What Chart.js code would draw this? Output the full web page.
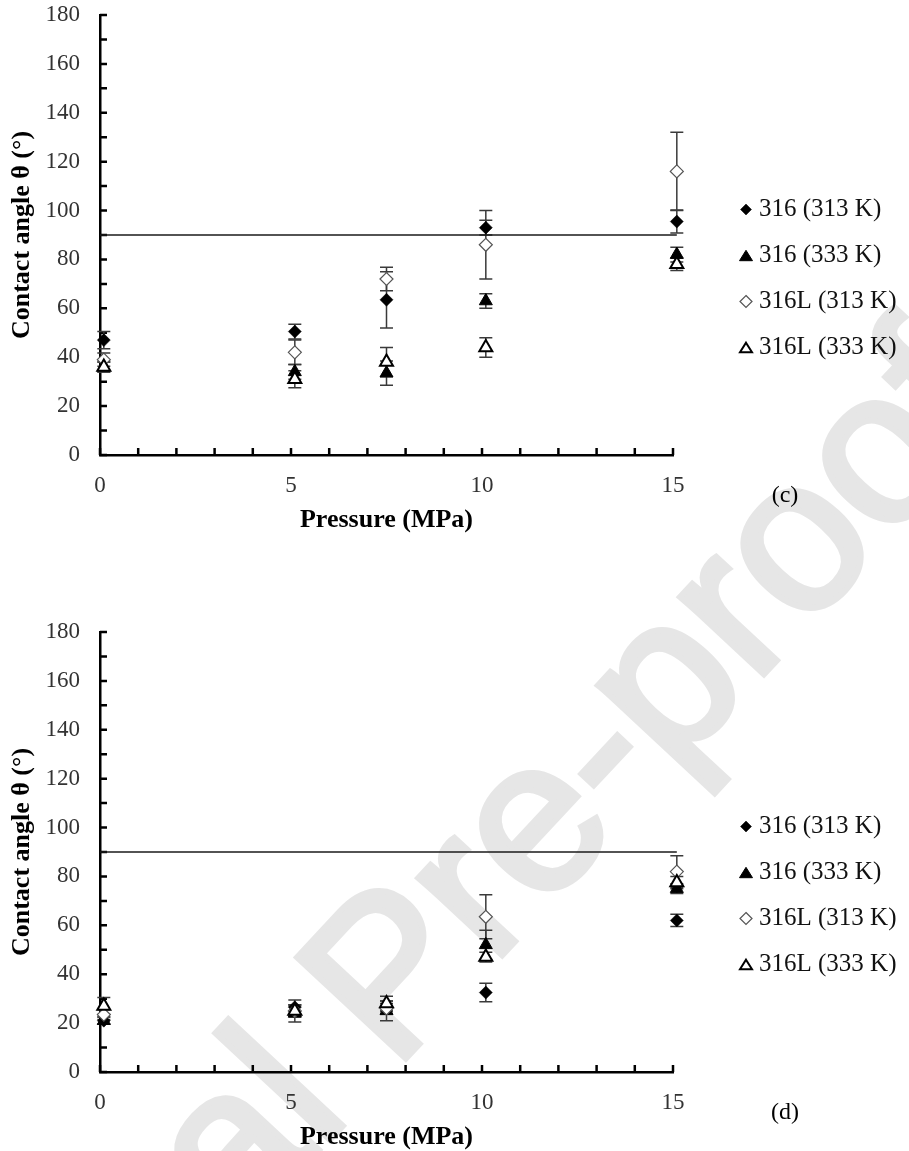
<!DOCTYPE html>
<html>
<head>
<meta charset="utf-8">
<title>Contact angle vs pressure</title>
<script src="https://cdn.jsdelivr.net/npm/chart.js@4.4.1/dist/chart.umd.min.js"></script>
<style>
    html, body { margin: 0; padding: 0; background: #fff; }
    body { width: 909px; height: 1151px; position: relative; overflow: hidden; }
    .panel { position: absolute; left: 0; width: 909px; height: 540px; z-index: 1; }
    #watermark {
        position: absolute;
        left: -130px;
        top: 1634px;
        font: 216px 'Liberation Sans', Arial, sans-serif;
        line-height: 1;
        color: #e6e6e6;
        -webkit-text-stroke: 6px #e6e6e6;
        white-space: nowrap;
        transform-origin: 0 0;
        transform: rotate(-47deg) translateY(-0.85em);
        z-index: 0;
    }
</style>
</head>
<body>
<div id="watermark">Journal Pre-proof</div>
<div class="panel" style="top:0"><canvas id="chartC" width="909" height="540"></canvas></div>
<div class="panel" style="top:617px"><canvas id="chartD" width="909" height="540"></canvas></div>
<script>
// values (contact angle in degrees, pressure in MPa)
const seriesNames = ['316 (313 K)', '316 (333 K)', '316L (313 K)', '316L (333 K)'];
const pressure = [0.1, 5.1, 7.5, 10.1, 15.1];
const wettingLimit = 90;
const limitSpan = [0, 15.1];

// panel (c)
const angleC316At313 = [47, 50.5, 63.5, 93, 95.5];
const errC316At313 = [3.5, 3, 11.5, 3, 4.7];
const angleC316At333 = [36, 34, 33.5, 63, 82];
const errC316At333 = [2, 3, 5, 3, 3];
const angleC316LAt313 = [39, 42, 72, 86, 116];
const errC316LAt313 = [2.7, 5, 4.8, 14, 16];
const angleC316LAt333 = [36, 31, 38, 44, 78];
const errC316LAt333 = [2, 3.5, 6, 4, 2.5];

// panel (d)
const angleD316At313 = [21, 26.5, 27, 32.5, 62];
const errD316At313 = [1.5, 3, 2, 3.8, 2.5];
const angleD316At333 = [21, 24, 25, 52, 75];
const errD316At333 = [1.5, 3.5, 4, 6, 2];
const angleD316LAt313 = [23.5, 25, 26, 63.5, 82];
const errD316LAt313 = [2, 2, 2, 9, 6.5];
const angleD316LAt333 = [27, 25, 28, 47, 77.5];
const errD316LAt333 = [3.5, 2.5, 3, 2, 2.5];

const markerStyles = [
    { shape: 'rectRot', radius: 6.5, fill: '#000', stroke: '#000', width: 0.5, legendSize: 5.5 },
    { shape: 'triangle', radius: 7.5, fill: '#000', stroke: '#000', width: 1, legendSize: 6.5 },
    { shape: 'rectRot', radius: 6.5, fill: '#fff', stroke: '#555', width: 1.2, legendSize: 6 },
    { shape: 'triangle', radius: 7.5, fill: '#fff', stroke: '#000', width: 2, legendSize: 6 },
];

const serif = "'Liberation Serif', 'Times New Roman', serif";

const drawLegendMarker = (ctx, style, x, y) => {
    const r = style.legendSize;
    ctx.beginPath();
    if (style.shape === 'rectRot') {
        ctx.moveTo(x, y - r);
        ctx.lineTo(x + r, y);
        ctx.lineTo(x, y + r);
        ctx.lineTo(x - r, y);
    } else {
        const h = r * 1.6;
        ctx.moveTo(x, y - h / 2);
        ctx.lineTo(x + r, y + h / 2);
        ctx.lineTo(x - r, y + h / 2);
    }
    ctx.closePath();
    ctx.fillStyle = style.fill;
    ctx.fill();
    ctx.lineWidth = style.width;
    ctx.strokeStyle = style.stroke;
    ctx.stroke();
};

// tick marks pointing into the plot, like the original spreadsheet chart
const insideTicks = {
    id: 'insideTicks',
    beforeDatasetsDraw(chart, _args, opts) {
        const { ctx, scales: { x, y } } = chart;
        ctx.save();
        ctx.strokeStyle = '#000';
        ctx.lineWidth = opts.width;
        ctx.beginPath();
        y.ticks.forEach((tick) => {
            const py = y.getPixelForValue(tick.value);
            ctx.moveTo(x.left, py);
            ctx.lineTo(x.left + opts.length, py);
        });
        x.ticks.forEach((tick) => {
            const px = x.getPixelForValue(tick.value);
            ctx.moveTo(px, y.bottom);
            ctx.lineTo(px, y.bottom - opts.length);
        });
        ctx.stroke();
        ctx.restore();
    },
};

const errorBars = {
    id: 'errorBars',
    beforeDatasetsDraw(chart, _args, opts) {
        const { ctx, scales: { y } } = chart;
        ctx.save();
        ctx.strokeStyle = opts.color;
        ctx.lineWidth = opts.width;
        chart.data.datasets.forEach((dataset, di) => {
            if (!dataset.errors) return;
            const meta = chart.getDatasetMeta(di);
            meta.data.forEach((point, i) => {
                const value = dataset.data[i].y;
                const top = y.getPixelForValue(value + dataset.errors[i]);
                const bottom = y.getPixelForValue(value - dataset.errors[i]);
                ctx.beginPath();
                ctx.moveTo(point.x, top);
                ctx.lineTo(point.x, bottom);
                ctx.moveTo(point.x - opts.cap, top);
                ctx.lineTo(point.x + opts.cap, top);
                ctx.moveTo(point.x - opts.cap, bottom);
                ctx.lineTo(point.x + opts.cap, bottom);
                ctx.stroke();
            });
        });
        ctx.restore();
    },
};

const sideLegend = {
    id: 'sideLegend',
    afterDraw(chart, _args, opts) {
        const { ctx } = chart;
        ctx.save();
        ctx.font = `${opts.fontSize}px ${serif}`;
        ctx.textBaseline = 'middle';
        ctx.textAlign = 'left';
        chart.data.datasets.filter((d) => d.errors).forEach((dataset, i) => {
            const rowY = opts.firstY + i * opts.step;
            drawLegendMarker(ctx, markerStyles[i], opts.markerX, rowY);
            ctx.fillStyle = '#111';
            ctx.fillText(dataset.label, opts.textX, rowY);
        });
        ctx.font = `24px ${serif}`;
        ctx.textAlign = 'center';
        ctx.fillStyle = '#000';
        ctx.fillText(opts.panel, opts.panelX, opts.panelY);
        ctx.restore();
    },
};

const makePanel = (canvasId, panel, angles, errors) => {
    const series = angles.map((values, s) => ({
        label: seriesNames[s],
        data: pressure.map((p, i) => ({ x: p, y: values[i] })),
        errors: errors[s],
        pointStyle: markerStyles[s].shape,
        pointRadius: markerStyles[s].radius,
        pointHoverRadius: markerStyles[s].radius,
        pointBackgroundColor: markerStyles[s].fill,
        pointBorderColor: markerStyles[s].stroke,
        pointBorderWidth: markerStyles[s].width,
        showLine: false,
        clip: false,
        order: 4 - s,
    }));

    return new Chart(document.getElementById(canvasId), {
        type: 'scatter',
        data: {
            datasets: [
                {
                    label: 'limit',
                    data: limitSpan.map((p) => ({ x: p, y: wettingLimit })),
                    showLine: true,
                    borderColor: '#1a1a1a',
                    borderWidth: 1.5,
                    pointRadius: 0,
                    clip: false,
                    order: 10,
                },
                ...series,
            ],
        },
        plugins: [insideTicks, errorBars, sideLegend],
        options: {
            responsive: false,
            animation: false,
            events: [],
            layout: { autoPadding: false, padding: { left: 0, top: 15, right: 236, bottom: 0 } },
            plugins: {
                legend: { display: false },
                tooltip: { enabled: false },
                insideTicks: { length: 7, width: 2.5 },
                errorBars: { color: '#3a3a3a', width: 1.5, cap: 6.5 },
                sideLegend: {
                    fontSize: 25, markerX: 746, textX: 759, firstY: 209.5, step: 46,
                    panel, panelX: 785, panelY: 496,
                },
            },
            scales: {
                x: {
                    type: 'linear',
                    min: 0,
                    max: 15,
                    afterFit: (scale) => {
                        scale.height = 85;
                        scale.paddingLeft = 0;
                        scale.paddingRight = 0;
                    },
                    grid: { drawOnChartArea: false, drawTicks: false },
                    border: { display: true, color: '#000', width: 2.5 },
                    ticks: {
                        stepSize: 1,
                        autoSkip: false,
                        maxRotation: 0,
                        padding: 17,
                        color: '#333',
                        font: { family: serif, size: 23 },
                        callback: (v) => (v % 5 === 0 ? v : ''),
                    },
                    title: {
                        display: true,
                        text: 'Pressure (MPa)',
                        color: '#000',
                        font: { family: serif, size: 26, weight: 'bold', lineHeight: 1 },
                        padding: { top: 0, bottom: 7 },
                    },
                },
                y: {
                    min: 0,
                    max: 180,
                    afterFit: (scale) => {
                        scale.width = 100;
                        scale.paddingTop = 0;
                        scale.paddingBottom = 0;
                    },
                    grid: { drawOnChartArea: false, drawTicks: false },
                    border: { display: true, color: '#000', width: 2.5 },
                    ticks: {
                        stepSize: 10,
                        autoSkip: false,
                        padding: 20,
                        color: '#333',
                        font: { family: serif, size: 23 },
                        callback: (v) => (v % 20 === 0 ? v : ''),
                    },
                    title: {
                        display: true,
                        text: 'Contact angle θ (°)',
                        color: '#000',
                        font: { family: serif, size: 26, weight: 'bold', lineHeight: 1 },
                        padding: { top: 9, bottom: 0 },
                    },
                },
            },
        },
    });
};

makePanel('chartC', '(c)',
    [angleC316At313, angleC316At333, angleC316LAt313, angleC316LAt333],
    [errC316At313, errC316At333, errC316LAt313, errC316LAt333]);

makePanel('chartD', '(d)',
    [angleD316At313, angleD316At333, angleD316LAt313, angleD316LAt333],
    [errD316At313, errD316At333, errD316LAt313, errD316LAt333]);
</script>
</body>
</html>
